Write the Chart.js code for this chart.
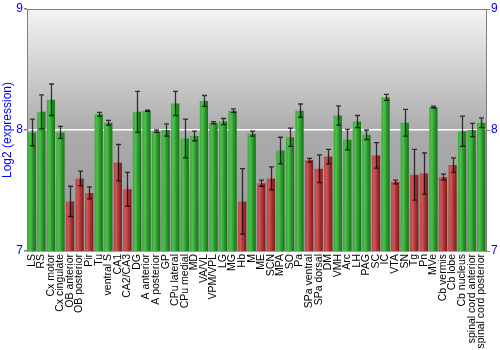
<!DOCTYPE html>
<html lang="en">
<head>
    <meta charset="UTF-8">
    <title>Log2 expression by region</title>
    <script src="https://cdn.jsdelivr.net/npm/chart.js"></script>
    <style>
        body { margin: 0; background: #fff; }
        #wrap { width: 500px; height: 350px; }
    </style>
</head>
<body>
    <div id="wrap"><canvas id="exprChart" width="500" height="350"></canvas></div>

    <script>
        const regions = ['LS', 'RS', 'Cx motor', 'Cx cingulate', 'OB anterior', 'OB posterior', 'Pir', 'Tu',
            'ventral S', 'CA1', 'CA2/CA3', 'DG', 'A anterior', 'A posterior', 'GP', 'CPu lateral', 'CPu medial',
            'MD', 'VA/VL', 'VPM/VPL', 'LG', 'MG', 'Hb', 'M', 'ME', 'SCN', 'MPA', 'SO', 'Pa', 'SPa ventral',
            'SPa dorsal', 'DM', 'VMH', 'Arc', 'LH', 'PAG', 'SC', 'IC', 'VTA', 'SN', 'Tg', 'Pn', 'MVe',
            'Cb vermis', 'Cb lobe', 'Cb nucleus', 'spinal cord anterior', 'spinal cord posterior'];
        const expression = [7.98, 8.15, 8.25, 7.98, 7.41, 7.60, 7.48, 8.13,
            8.06, 7.73, 7.51, 8.15, 8.16, 7.99, 8.00, 8.22, 7.93,
            7.95, 8.24, 8.06, 8.07, 8.16, 7.41, 7.97, 7.56, 7.60, 7.83, 7.94, 8.16, 7.75,
            7.68, 7.78, 8.12, 7.92, 8.07, 7.96, 7.79, 8.27, 7.57, 8.06, 7.63, 7.64, 8.19,
            7.61, 7.71, 7.99, 8.00, 8.06];
        const errors = [0.11, 0.14, 0.13, 0.05, 0.125, 0.06, 0.05, 0.015,
            0.02, 0.15, 0.14, 0.17, 0.005, 0.01, 0.05, 0.10, 0.16,
            0.04, 0.045, 0.01, 0.025, 0.015, 0.27, 0.02, 0.025, 0.095, 0.11, 0.075, 0.055, 0.015,
            0.115, 0.06, 0.08, 0.085, 0.05, 0.04, 0.105, 0.025, 0.015, 0.11, 0.21, 0.17, 0.008,
            0.025, 0.06, 0.125, 0.055, 0.04];
        // 1 = low expression (red bar)
        const lowFlags = [0, 0, 0, 0, 1, 1, 1, 0,
            0, 1, 1, 0, 0, 0, 0, 0, 0,
            0, 0, 0, 0, 0, 1, 0, 1, 1, 0, 0, 0, 1,
            1, 1, 0, 0, 0, 0, 1, 0, 1, 0, 1, 1, 0,
            1, 1, 0, 0, 0];
        const yTicks = [7, 8, 9];

        const BAR_FRACTION = 0.86;
        const BLUE = '#0000ff';

        // cylinder-like horizontal shading per bar
        const barFill = (c) => {
            const chart = c.chart;
            const xs = chart.scales.x;
            const low = lowFlags[c.dataIndex];
            const flat = low ? '#b03a3a' : '#30a030';
            if (!xs || c.type !== 'data') return flat;
            const cx = xs.getPixelForValue(c.dataIndex);
            const w = xs.width / regions.length * BAR_FRACTION;
            if (!isFinite(cx) || !isFinite(w) || w <= 0) return flat;
            const g = chart.ctx.createLinearGradient(cx - w / 2, 0, cx + w / 2, 0);
            if (low) {
                g.addColorStop(0, '#b84646');
                g.addColorStop(0.3, '#cc5656');
                g.addColorStop(0.65, '#a43232');
                g.addColorStop(1, '#7c1c1c');
            } else {
                g.addColorStop(0, '#38a838');
                g.addColorStop(0.3, '#4cc24c');
                g.addColorStop(0.65, '#2a962a');
                g.addColorStop(1, '#1a701a');
            }
            return g;
        };

        const backdrop = {
            id: 'backdrop',
            beforeDraw(chart) {
                const { ctx, chartArea: a } = chart;
                const g = ctx.createLinearGradient(0, a.top, 0, a.bottom);
                g.addColorStop(0, '#f4f4f4');
                g.addColorStop(0.5, '#acacac');
                g.addColorStop(1, '#969696');
                ctx.save();
                ctx.fillStyle = g;
                ctx.fillRect(a.left, a.top, a.right - a.left, a.bottom - a.top);
                ctx.restore();
            },
            afterDraw(chart) {
                const { ctx, chartArea: a } = chart;
                ctx.save();
                ctx.strokeStyle = '#808080';
                ctx.lineWidth = 1;
                ctx.beginPath();
                ctx.moveTo(a.left, a.top + 0.5);
                ctx.lineTo(a.right, a.top + 0.5);
                ctx.stroke();
                ctx.restore();
            }
        };

        const errorBars = {
            id: 'errorBars',
            afterDatasetsDraw(chart) {
                const { ctx } = chart;
                const ys = chart.scales.y;
                const meta = chart.getDatasetMeta(0);
                ctx.save();
                ctx.strokeStyle = 'rgba(0,0,0,0.75)';
                ctx.lineWidth = 1.3;
                meta.data.forEach((bar, i) => {
                    const x = Math.round(bar.x) + 0.5;
                    const top = ys.getPixelForValue(expression[i] + errors[i]);
                    const bot = ys.getPixelForValue(expression[i] - errors[i]);
                    ctx.beginPath();
                    ctx.moveTo(x, top);
                    ctx.lineTo(x, bot);
                    ctx.moveTo(x - 2.5, top);
                    ctx.lineTo(x + 2.5, top);
                    ctx.moveTo(x - 2.5, bot);
                    ctx.lineTo(x + 2.5, bot);
                    ctx.stroke();
                });
                ctx.restore();
            }
        };

        const fixedSize = (prop, val) => (scale) => { scale[prop] = val; };

        new Chart(document.getElementById('exprChart'), {
            type: 'bar',
            data: {
                labels: regions,
                datasets: [{
                    data: expression,
                    backgroundColor: barFill,
                    borderWidth: 0,
                    barPercentage: 1,
                    categoryPercentage: BAR_FRACTION
                }]
            },
            options: {
                responsive: false,
                animation: false,
                layout: { padding: { top: 9, left: 0, right: 0, bottom: 0 } },
                plugins: { legend: { display: false }, tooltip: { enabled: false } },
                scales: {
                    x: {
                        afterFit: fixedSize('height', 99),
                        grid: { drawOnChartArea: false, drawTicks: false },
                        border: { color: '#a0a0a0' },
                        ticks: {
                            autoSkip: false,
                            minRotation: 90,
                            maxRotation: 90,
                            padding: 3,
                            color: '#000',
                            font: { family: 'Liberation Sans', size: 10.5 }
                        }
                    },
                    y: {
                        position: 'left',
                        min: 7,
                        max: 9,
                        afterFit: fixedSize('width', 27),
                        afterBuildTicks: (s) => { s.ticks = yTicks.map(v => ({ value: v })); },
                        border: { color: '#808080' },
                        grid: {
                            color: (c) => c.tick && c.tick.value === 8 ? '#ffffff' : 'rgba(0,0,0,0)',
                            lineWidth: 1.5,
                            tickLength: 3,
                            tickColor: '#808080'
                        },
                        ticks: { padding: 1, color: BLUE, font: { family: 'Liberation Sans', size: 12 } },
                        title: {
                            display: true,
                            text: 'Log2 (expression)',
                            color: BLUE,
                            padding: { top: 0, bottom: 0 },
                            font: { family: 'Liberation Sans', size: 12 }
                        }
                    },
                    y2: {
                        position: 'right',
                        min: 7,
                        max: 9,
                        afterFit: fixedSize('width', 14),
                        afterBuildTicks: (s) => { s.ticks = yTicks.map(v => ({ value: v })); },
                        border: { color: '#808080' },
                        grid: { drawOnChartArea: false, tickLength: 4, tickColor: '#808080' },
                        ticks: { padding: 1, color: BLUE, font: { family: 'Liberation Sans', size: 12 } }
                    }
                }
            },
            plugins: [backdrop, errorBars]
        });
    </script>
</body>
</html>
